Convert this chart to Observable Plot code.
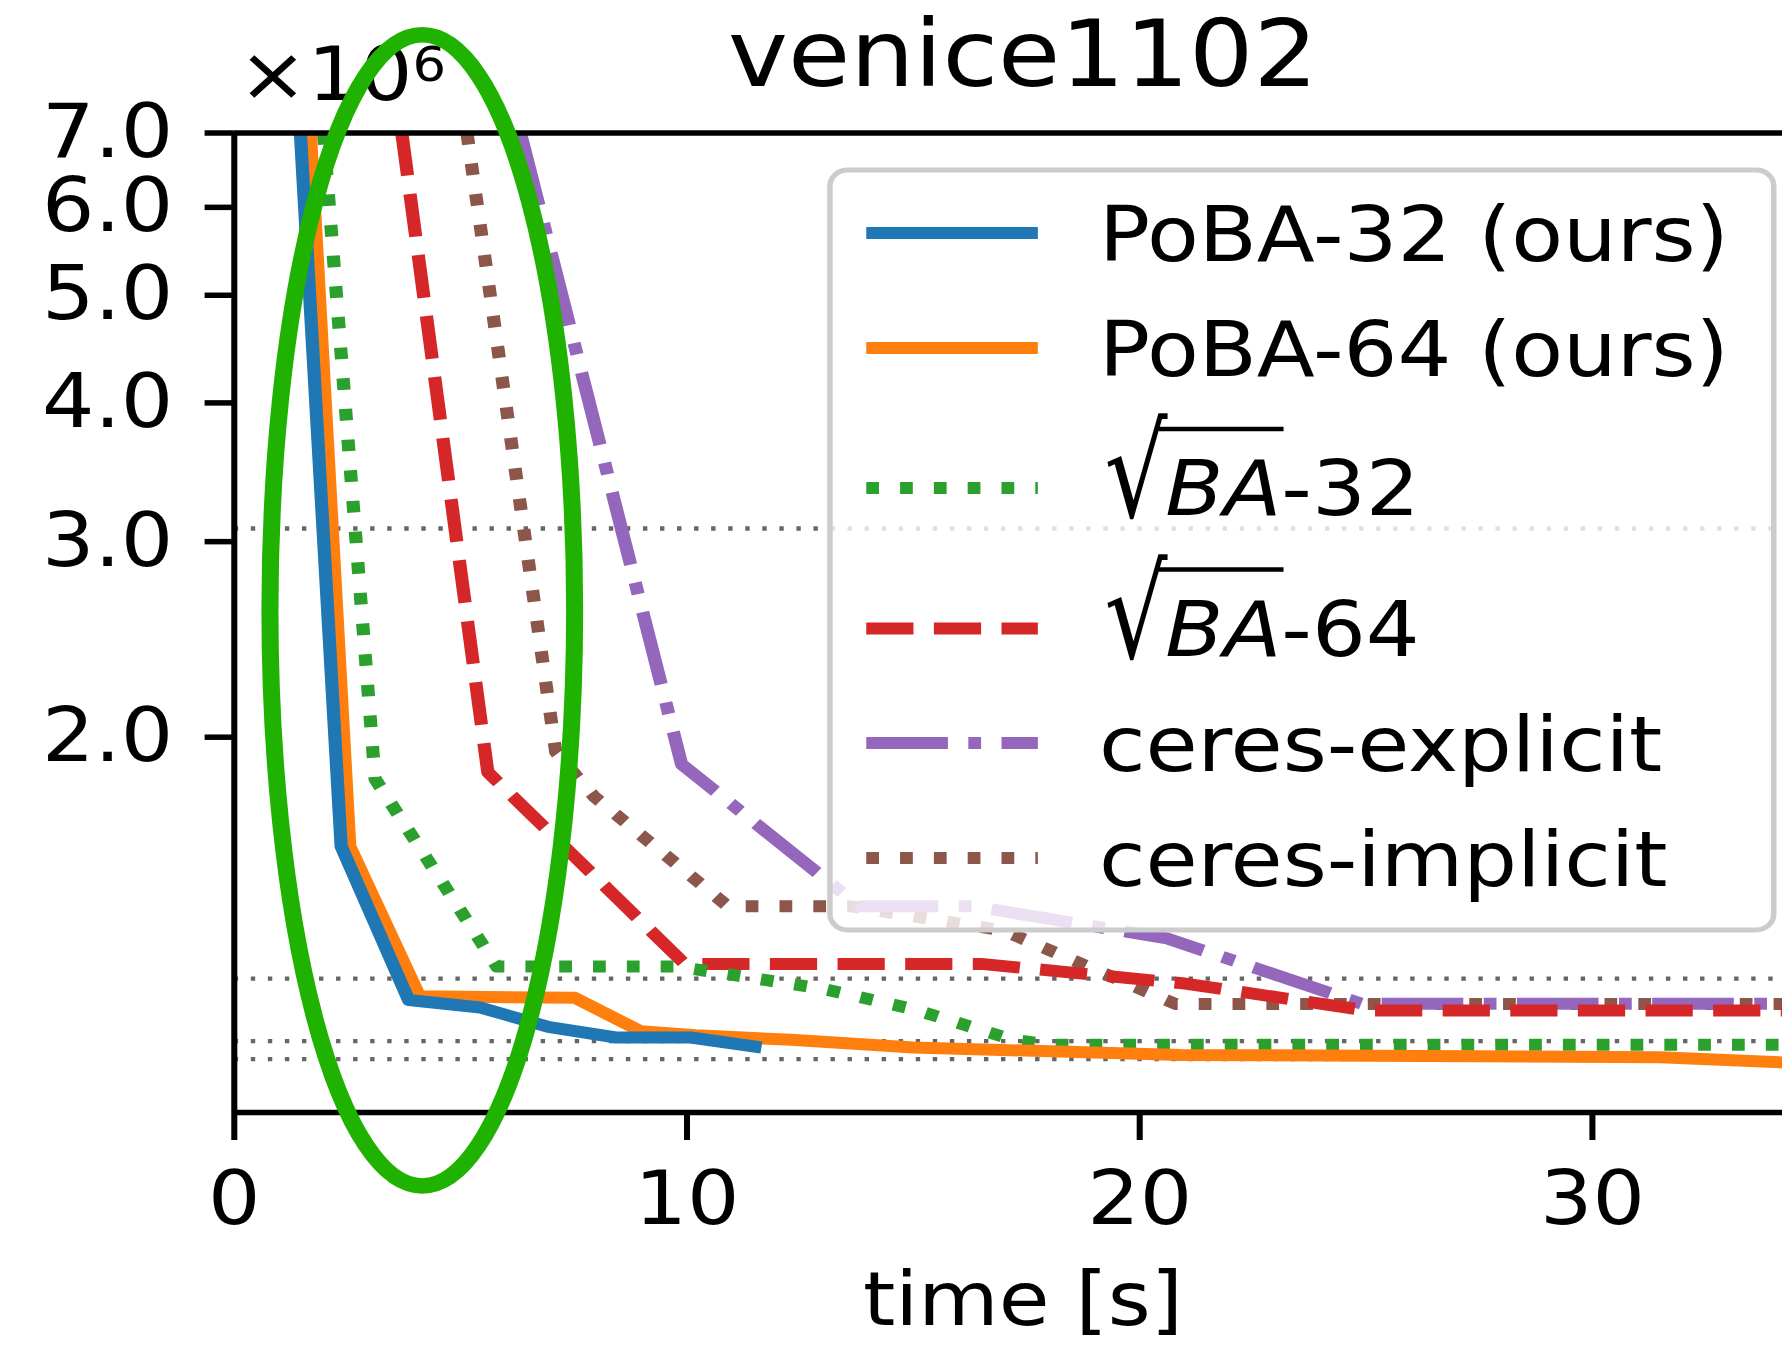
<!DOCTYPE html>
<html><head><meta charset="utf-8">
<script src="https://cdn.jsdelivr.net/npm/d3@7"></script>
<script src="https://cdn.jsdelivr.net/npm/@observablehq/plot@0.6"></script>
<style>
html,body{margin:0;padding:0;background:#fff;overflow:hidden;}
#wrap{position:relative;width:1620px;height:1346px;transform:scaleX(1.1);transform-origin:0 0;font-family:"DejaVu Sans";}
#wrap svg{position:absolute;left:0;top:0;}
</style></head><body><div id="wrap"></div>
<script>
// ---------------- data (time in s, cost in ×10^6) ----------------
const seriesNames  = ["PoBA-32 (ours)", "PoBA-64 (ours)", "√BA-32", "√BA-64", "ceres-explicit", "ceres-implicit"];
const seriesColors = ["#1f77b4", "#ff7f0e", "#2ca02c", "#d62728", "#9467bd", "#8c564b"];
const seriesStyles = ["solid", "solid", "dotted", "dashed", "dashdot", "dotted"];

const poba32T = [1.46, 2.36, 3.85, 5.43, 6.93, 8.43, 10.08, 11.5];
const poba32V = [7.0, 1.595, 1.160, 1.142, 1.097, 1.073, 1.073, 1.053];

const poba64T = [1.68, 2.55, 4.09, 7.52, 8.98, 10.2, 12.3, 15.0, 20.9, 31.5, 34.2];
const poba64V = [7.0, 1.595, 1.169, 1.165, 1.087, 1.078, 1.068, 1.051, 1.035, 1.030, 1.019];

const sqrtba32T = [1.97, 3.11, 5.80, 9.8, 13.0, 15.0, 17.2, 18.0, 34.2];
const sqrtba32V = [7.0, 1.834, 1.243, 1.243, 1.187, 1.138, 1.068, 1.057, 1.057];

const sqrtba64T = [3.70, 5.6, 9.95, 16.5, 21.0, 25.0, 34.2];
const sqrtba64V = [7.0, 1.86, 1.250, 1.250, 1.200, 1.135, 1.135];

const ceresExplT = [6.32, 9.88, 13.8, 16.3, 20.6, 24.9, 34.2];
const ceresExplV = [7.0, 1.891, 1.409, 1.409, 1.318, 1.151, 1.151];

const ceresImplT = [5.14, 7.1, 7.95, 10.9, 13.6, 17.0, 20.8, 34.2];
const ceresImplV = [7.0, 1.94, 1.768, 1.409, 1.409, 1.339, 1.150, 1.150];

const refLevels = [3.083, 1.2125, 1.0648, 1.0262];

const xTicks = [0, 10, 20, 30];
const yTicks = [2.0, 3.0, 4.0, 5.0, 6.0, 7.0];
const X_MIN = 0, X_MAX = 34.2;
const Y_MIN = 0.9185, Y_MAX = 7.0;

const titleText = "venice1102";
const xLabelText = "time [s]";

// ---------------- build ----------------
const seriesT = [poba32T, poba64T, sqrtba32T, sqrtba64T, ceresExplT, ceresImplT];
const seriesV = [poba32V, poba64V, sqrtba32V, sqrtba64V, ceresExplV, ceresImplV];
const series = seriesNames.map((name, i) => ({
  name, color: seriesColors[i], style: seriesStyles[i],
  data: seriesT[i].map((t, j) => ({t, v: seriesV[i][j]}))
}));

const LW = 12, U = 11.6;
const dashOf = s => s === "dotted" ? [1 * U, 1.65 * U].join(",")
  : s === "dashed" ? [3.7 * U, 1.6 * U].join(",")
  : s === "dashdot" ? [6.4 * U, 1.6 * U, 1 * U, 1.6 * U].join(",")
  : null;

const W = 1620, H = 1346;
const chart = Plot.plot({
  width: W, height: H,
  marginLeft: 212.5, marginRight: 0, marginTop: 132.5, marginBottom: 234,
  x: {type: "linear", domain: [X_MIN, X_MAX], label: null},
  y: {type: "log", domain: [Y_MIN, Y_MAX], label: null},
  style: {fontFamily: "DejaVu Sans", fontSize: "75px", color: "black", background: "white"},
  marks: [
    Plot.ruleY(refLevels, {stroke: "#666", strokeWidth: 4.3, strokeDasharray: "4,11.5"}),
    ...series.slice().reverse().map(s => Plot.line(s.data, {
      x: "t", y: "v", stroke: s.color, strokeWidth: LW,
      strokeDasharray: dashOf(s.style),
      strokeLinecap: s.style === "solid" ? "square" : "butt",
      strokeLinejoin: "round", clip: true
    })),
    Plot.ruleX([X_MIN], {stroke: "black", strokeWidth: 5.5}),
    Plot.ruleY([Y_MIN, Y_MAX], {stroke: "black", strokeWidth: 5.5}),
    Plot.axisX({ticks: xTicks, tickFormat: d3.format("d"), tickSize: 28, tickPadding: 30,
      strokeWidth: 5.5, fontSize: 75, label: null}),
    Plot.axisY({ticks: yTicks, tickFormat: d3.format(".1f"), tickSize: 26.5, tickPadding: 29,
      strokeWidth: 5.5, fontSize: 75, label: null})
  ]
});
const wrap = document.getElementById("wrap");
wrap.appendChild(chart);

// ---------------- overlay: title, offset text, x label, legend, annotation ----------------
const ov = d3.create("svg").attr("width", W).attr("height", H)
  .attr("font-family", "DejaVu Sans").style("pointer-events", "none");
wrap.appendChild(ov.node());

ov.append("text").attr("x", 930).attr("y", 86).attr("font-size", 92)
  .attr("text-anchor", "middle").text(titleText);

const off = ov.append("text").attr("x", 216.7).attr("y", 100).attr("font-size", 75);
off.append("tspan").text("×10");
off.append("tspan").attr("font-size", 48).attr("dy", -19).text("6");

ov.append("text").attr("x", 930).attr("y", 1325).attr("font-size", 75)
  .attr("text-anchor", "middle").text(xLabelText);

// legend
const lg = ov.append("g");
lg.append("rect").attr("x", 754.5).attr("y", 170).attr("width", 858).attr("height", 760)
  .attr("rx", 16).attr("fill", "white").attr("fill-opacity", 0.8)
  .attr("stroke", "#cccccc").attr("stroke-width", 5);
const rowY = [233, 348, 488, 628.6, 743, 858];
series.forEach((s, i) => {
  const y0 = rowY[i];
  lg.append("line").attr("x1", s.style === "solid" ? 793.5 : 787.5).attr("x2", s.style === "solid" ? 937.5 : 943.5)
    .attr("y1", y0).attr("y2", y0)
    .attr("stroke", s.color).attr("stroke-width", LW)
    .attr("stroke-dasharray", dashOf(s.style))
    .attr("stroke-linecap", s.style === "solid" ? "square" : "butt");
  const isRoot = s.name.startsWith("√");
  if (isRoot) {
    const base = y0 + 27;
    const r = lg.append("text").attr("font-size", 90)
      .attr("transform", `translate(1004,${base + 2}) scale(1,1.42)`).text("√");
    const rw = r.node().getComputedTextLength();
    const t = lg.append("text").attr("x", 1004 + rw - 2).attr("y", base).attr("font-size", 77);
    t.append("tspan").attr("font-style", "italic").text(s.name.slice(1, 3));
    t.append("tspan").text(s.name.slice(3));
    const node = t.node();
    const xb = node.getEndPositionOfChar(1).x;
    lg.append("line").attr("x1", 1004 + rw - 8).attr("x2", xb + 2)
      .attr("y1", y0 - 59).attr("y2", y0 - 59)
      .attr("stroke", "black").attr("stroke-width", 4.5);
  } else {
    lg.append("text").attr("x", 999).attr("y", y0 + 28).attr("font-size", 77).text(s.name);
  }
});

// hand-drawn highlight ellipse (annotation on top of the figure)
ov.append("ellipse").attr("cx", 383.9).attr("cy", 610.4).attr("rx", 138.5).attr("ry", 575.6)
  .attr("fill", "none").attr("stroke", "#1fb200").attr("stroke-width", 15.5);
</script></body></html>
